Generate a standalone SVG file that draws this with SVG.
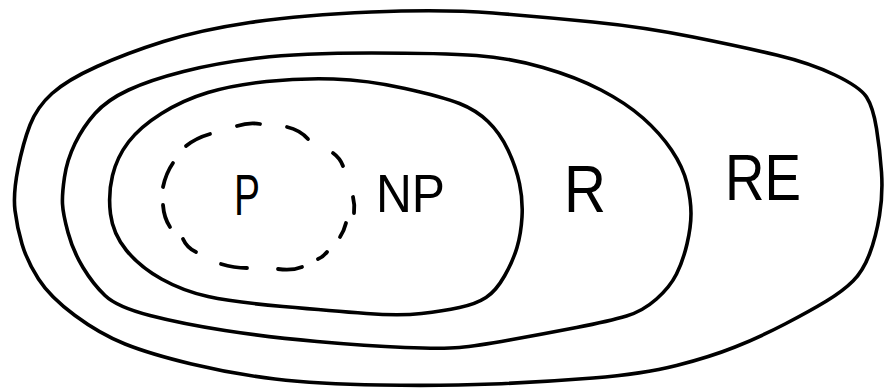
<svg xmlns="http://www.w3.org/2000/svg" width="887" height="388" viewBox="0 0 887 388">
<style>
.set{fill:none;stroke:#000;stroke-width:3.6;stroke-linecap:round;stroke-linejoin:round}
.dash{fill:none;stroke:#000;stroke-width:3.8;stroke-linecap:round}
.lbl{font-family:"Liberation Sans",Arial,sans-serif;fill:#000}
</style>
<rect width="887" height="388" fill="#fff"/>
<g id="RE">
<path class="set" d="M15,210.5 Q13,194 18,168.5 Q23,143 30,125 Q37,107 52,93.5 Q67,80 97,66.5 Q127,53 163.5,41.5 Q200,30 250,22.5 Q300,15 371.5,12 Q443,9 493,13 Q543,17 593,22 Q643,27 693,37 Q743,47 776.5,55 Q810,63 835,75 Q860,87 866.5,97 Q873,107 876.5,128.5 Q880,150 881.5,172 Q883,194 879.5,215.5 Q876,237 869.5,254 Q863,271 853,281 Q843,291 826.5,301 Q810,311 785,324 Q760,337 735,347 Q710,357 676.5,365.5 Q643,374 593,378 Q543,382 493,384 Q443,386 380,385 Q317,384 275,379 Q233,374 191.5,364 Q150,354 125,344 Q100,334 75,315.5 Q50,297 38.5,279 Q27,261 22,244 Q17,227 15,210.5 Z"/>
<text class="lbl" x="725" y="200" font-size="64" textLength="76" lengthAdjust="spacingAndGlyphs">RE</text>
</g>
<g id="R">
<path class="set" d="M62.5,204 Q62,194 64.5,177 Q67,160 75,143.5 Q83,127 95,113.5 Q107,100 128.5,90 Q150,80 183.5,71.5 Q217,63 258.5,58 Q300,53 371.5,53 Q443,53 476.5,55.5 Q510,58 543,67.5 Q576,77 601,90 Q626,103 643,118 Q660,133 671.5,150 Q683,167 687,183.5 Q691,200 691,213.5 Q691,227 687,244 Q683,261 676.5,274 Q670,287 656.5,299 Q643,311 626.5,316 Q610,321 576.5,327.5 Q543,334 509.5,340 Q476,346 459.5,347.5 Q443,349 405,347.5 Q367,346 317,341.5 Q267,337 225,330.5 Q183,324 150,315.5 Q117,307 105,295.5 Q93,284 83,267.5 Q73,251 68,232.5 Q63,214 62.5,204 Z"/>
<text class="lbl" x="564" y="212" font-size="66" textLength="42" lengthAdjust="spacingAndGlyphs">R</text>
</g>
<g id="NP">
<path class="set" d="M110.5,214 Q108,194 112.5,175.5 Q117,157 128.5,142 Q140,127 161.5,113.5 Q183,100 208,92.5 Q233,85 266.5,81.5 Q300,78 333.5,79 Q367,80 405,88.5 Q443,97 459.5,103.5 Q476,110 488,121.5 Q500,133 508,150 Q516,167 519.5,183.5 Q523,200 522,217 Q521,234 517,247.5 Q513,261 504.5,276 Q496,291 486,297.5 Q476,304 459.5,307.5 Q443,311 421.5,313.5 Q400,316 366.5,313.5 Q333,311 283,306.5 Q233,302 208,296.5 Q183,291 161.5,279 Q140,267 126.5,250.5 Q113,234 110.5,214 Z"/>
<text class="lbl" x="376" y="212" font-size="54" textLength="69" lengthAdjust="spacingAndGlyphs">NP</text>
</g>
<g id="P">
<path class="dash" d="M186,146 Q196,138 210,134"/>
<path class="dash" d="M237,126 Q249,122 260,124"/>
<path class="dash" d="M287,127 Q300,130 308,139"/>
<path class="dash" d="M333,153 Q340,158 343,166"/>
<path class="dash" d="M353,197 Q355,205 354,213"/>
<path class="dash" d="M346,223 Q344,231 340,237"/>
<path class="dash" d="M327,252 Q323,257 318,259"/>
<path class="dash" d="M278,269 Q292,271 302,267"/>
<path class="dash" d="M221,264 Q234,268 247,268"/>
<path class="dash" d="M183,239 Q187,248 196,252"/>
<path class="dash" d="M163,205 Q164,218 170,227"/>
<path class="dash" d="M163,187 Q166,173 173,163"/>
<text class="lbl" x="234" y="215" font-size="58" textLength="26" lengthAdjust="spacingAndGlyphs">P</text>
</g>
<g id="connectors"/>
</svg>
